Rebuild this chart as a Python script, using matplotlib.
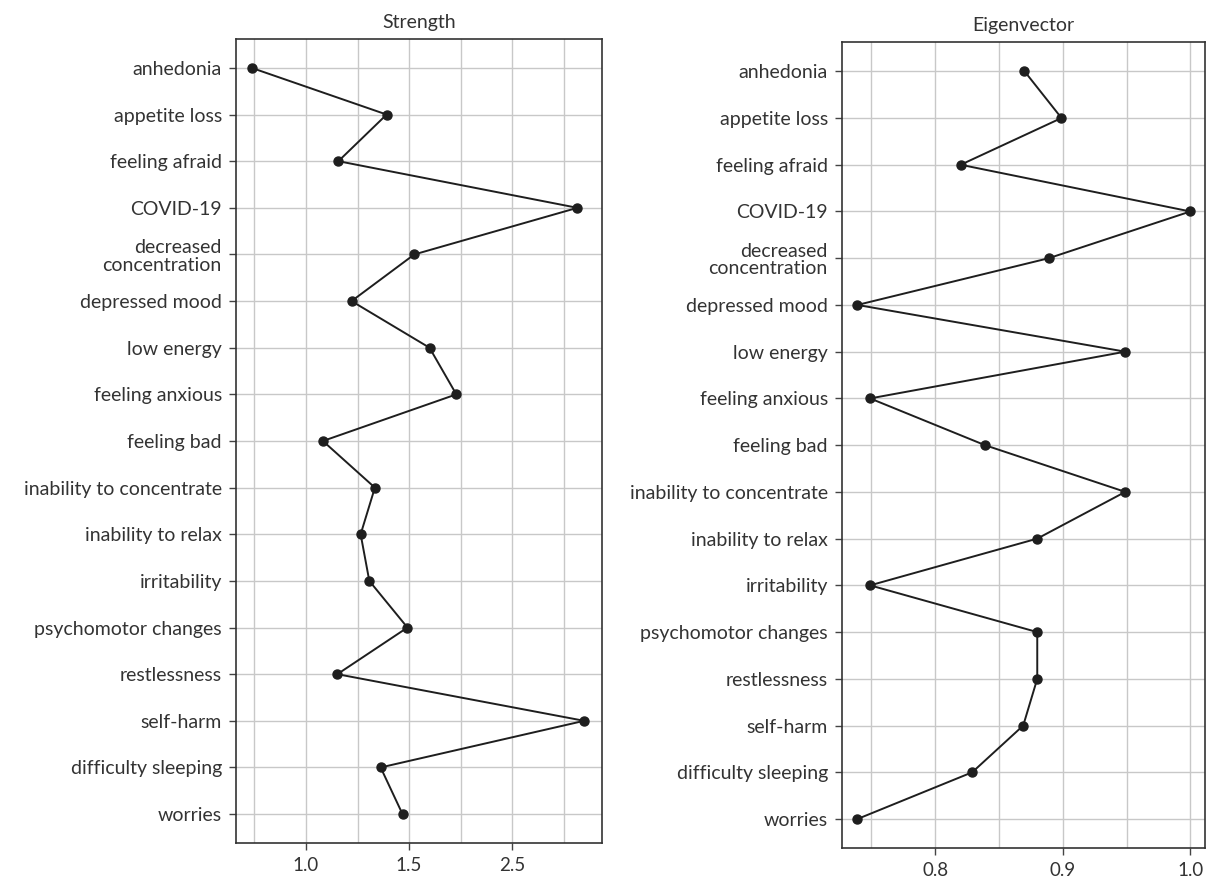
import matplotlib
matplotlib.use("Agg")
import matplotlib.pyplot as plt
from matplotlib.ticker import FixedLocator

categories = ["anhedonia", "appetite loss", "feeling afraid", "COVID-19",
              "decreased\nconcentration", "depressed mood", "low energy",
              "feeling anxious", "feeling bad", "inability to concentrate",
              "inability to relax", "irritability", "psychomotor changes",
              "restlessness", "self-harm", "difficulty sleeping", "worries"]

strength = [0.737, 1.391, 1.157, 2.316, 1.525, 1.221, 1.599, 1.729, 1.082,
            1.334, 1.265, 1.307, 1.492, 1.152, 2.349, 1.362, 1.468]

eigenvector = [0.870, 0.899, 0.820, 1.000, 0.889, 0.739, 0.949, 0.749, 0.839,
               0.949, 0.880, 0.749, 0.880, 0.880, 0.869, 0.829, 0.739]

strength_ticks = [1.0, 1.5, 2.0]
strength_ticklabels = ["1.0", "1.5", "2.5"]
strength_minor = [0.75, 1.25, 1.75, 2.25]

eigen_ticks = [0.8, 0.9, 1.0]
eigen_ticklabels = ["0.8", "0.9", "1.0"]
eigen_minor = [0.75, 0.85, 0.95]

FONT = "Lato"
TXT = "#333333"

fig = plt.figure(figsize=(12.10, 8.84), dpi=100)
W, H = 1210, 884

def make_ax(x0, x1, ytop, ybot):
    return fig.add_axes([x0 / W, 1 - ybot / H, (x1 - x0) / W, (ybot - ytop) / H])

ax1 = make_ax(235.7, 602.3, 39, 843)
ax2 = make_ax(841.7, 1205, 42.3, 848)

def style(ax, values, title, ticks, ticklabels, minor, xlim):
    n = len(categories)
    ypos = list(range(n))
    ax.plot(values, ypos, color="#1e1e1e", lw=1.4, marker="o", ms=6.5,
            zorder=3, clip_on=False)
    ax.set_ylim(n - 1 + 0.62, -0.62)
    ax.set_xlim(*xlim)
    ax.set_yticks(ypos)
    ax.set_yticklabels(categories, fontfamily=FONT, fontweight="normal",
                       fontsize=14, color=TXT, linespacing=1.05)
    ax.xaxis.set_major_locator(FixedLocator(ticks))
    ax.set_xticklabels(ticklabels, fontfamily=FONT, fontweight="normal",
                       fontsize=13.5, color=TXT)
    ax.xaxis.set_minor_locator(FixedLocator(minor))
    ax.tick_params(axis="x", which="minor", length=0)
    ax.tick_params(axis="both", which="major", length=5, width=1.0,
                   color="#444444", pad=5)
    ax.grid(True, which="major", color="#c8c8c8", lw=1.0, zorder=0)
    ax.grid(True, which="minor", axis="x", color="#c8c8c8", lw=1.0, zorder=0)
    ax.set_axisbelow(True)
    for s in ax.spines.values():
        s.set_color("#333333")
        s.set_linewidth(1.2)
    ax.set_title(title, fontfamily=FONT, fontweight="normal", fontsize=14,
                 color=TXT, pad=8)

style(ax1, strength, "Strength", strength_ticks, strength_ticklabels,
      strength_minor, (0.659, 2.437))
style(ax2, eigenvector, "Eigenvector", eigen_ticks, eigen_ticklabels,
      eigen_minor, (0.7267, 1.0115))

fig.savefig("out.png", dpi=100, facecolor="white")
